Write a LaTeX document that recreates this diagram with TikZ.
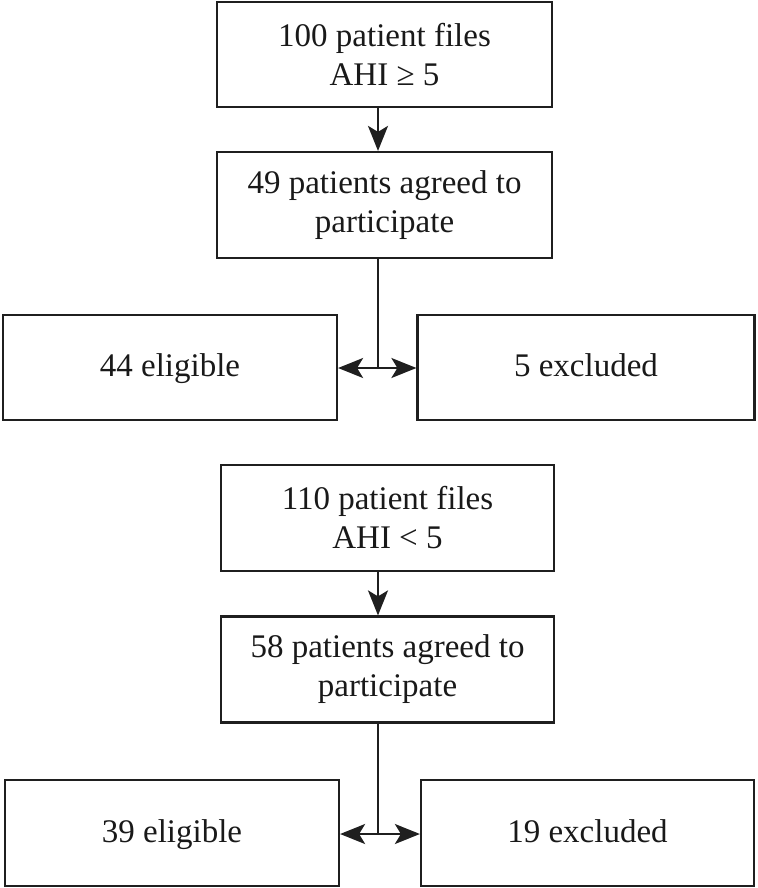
\documentclass[tikz,border=0pt]{standalone}
\usepackage{fontspec}
\setmainfont{Liberation Serif}
\usetikzlibrary{arrows.meta}
\begin{document}
\begin{tikzpicture}[x=1pt,y=-1pt,
  box/.style={draw=black!88, line width=2.2pt, inner sep=0pt, align=center,
    font=\fontsize{33}{39}\selectfont, text=black!90},
  oneline/.style={text height=23pt, text depth=5pt},
  conn/.style={draw=black!88, line width=2.2pt, -{Stealth[length=25pt,width=20pt,inset=6pt]}},
  conn2/.style={draw=black!88, line width=2.2pt}]
\useasboundingbox (0,0) rectangle (757,888);
% top group
\node[box, minimum width=335pt, minimum height=105pt] (A) at (384.5,54.5) {100 patient files\\AHI ≥ 5};
\node[box, minimum width=335pt, minimum height=106pt] (B) at (384.5,205) {49 patients agreed to\\participate};
\node[box, oneline, minimum width=334pt, minimum height=105pt] (C) at (170,367.5) {44 eligible};
\node[box, oneline, minimum width=337pt, minimum height=105pt] (D) at (586,367.5) {5 excluded};
\coordinate (j1) at (378,368);
\draw[conn] (A.south -| j1) -- (B.north -| j1);
\draw[conn2] (B.south -| j1) -- (j1);
\draw[conn] (j1) -- (C.east |- j1);
\draw[conn] (j1) -- (D.west |- j1);
% bottom group
\node[box, minimum width=333pt, minimum height=106pt] (E) at (387.5,518) {110 patient files\\AHI < 5};
\node[box, minimum width=333pt, minimum height=106pt] (F) at (387.5,669.5) {58 patients agreed to\\participate};
\node[box, oneline, minimum width=334pt, minimum height=106pt] (G) at (172,833) {39 eligible};
\node[box, oneline, minimum width=333pt, minimum height=106pt] (H) at (587.5,833) {19 excluded};
\coordinate (j2) at (378,834);
\draw[conn] (E.south -| j2) -- (F.north -| j2);
\draw[conn2] (F.south -| j2) -- (j2);
\draw[conn] (j2) -- (G.east |- j2);
\draw[conn] (j2) -- (H.west |- j2);
\end{tikzpicture}
\end{document}
